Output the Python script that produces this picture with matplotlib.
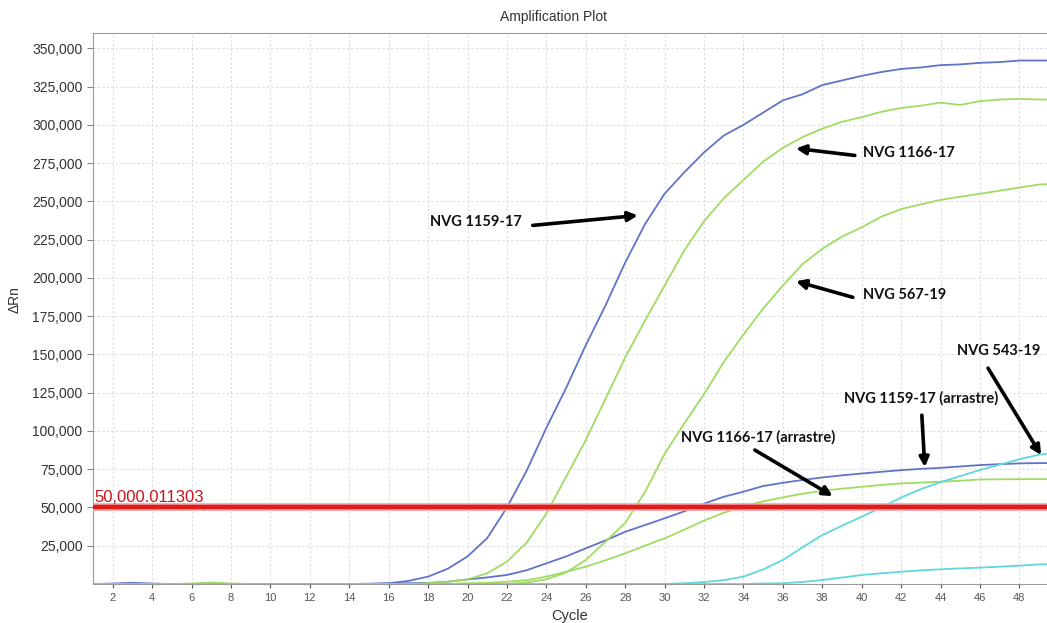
import numpy as np
import matplotlib
matplotlib.use('Agg')
import matplotlib.pyplot as plt
from matplotlib.ticker import FuncFormatter

plt.rcParams['font.family'] = ['Liberation Sans', 'DejaVu Sans']

# ---------------- data ----------------
cycles = np.arange(1, 51)

nvg1159 = [0, 300, 800, 300, 0, 0, 0, 0, 0, 0,
           0, 0, 0, 0, 200, 500, 2000, 4800, 10000, 18000,
           30000, 50000, 74000, 102000, 128000, 156000, 182000, 210000, 235000, 255000,
           269000, 282000, 293000, 300000, 308000, 316000, 320000, 326000, 329000, 332000,
           334500, 336500, 337500, 339000, 339500, 340500, 341000, 342000, 342000, 342000]

nvg1166 = [0, 0, 0, 0, 0, 300, 1000, 300, 0, 0,
           0, 0, 0, 0, 0, 0, 0, 500, 1500, 3000,
           7000, 14600, 27000, 46000, 70000, 94000, 121000, 148000, 172000, 195000,
           218000, 237000, 252000, 264000, 276000, 285000, 292000, 297500, 302000, 305000,
           308500, 311000, 312500, 314500, 313000, 315500, 316500, 317000, 316500, 316500]

nvg567 = [0, 0, 0, 0, 0, 0, 0, 0, 0, 0,
          0, 0, 0, 0, 0, 0, 0, 0, 0, 0,
          0, 0, 1000, 3000, 7500, 15700, 27600, 40000, 60000, 85000,
          105000, 124000, 145000, 163000, 180000, 195000, 209000, 219000, 227000, 233000,
          240000, 245000, 248000, 251000, 253000, 255000, 257000, 259000, 261000, 261500]

nvg1159_arr = [0, 0, 0, 0, 0, 0, 0, 0, 0, 0,
               0, 0, 0, 0, 0, 300, 500, 700, 1500, 3000,
               4300, 5900, 9000, 13500, 18000, 23300, 28500, 34100, 38500, 42900,
               47500, 52500, 57000, 60300, 64000, 66100, 68000, 69600, 71000, 72200,
               73300, 74400, 75200, 75900, 76800, 77700, 78300, 78800, 79000, 79000]

nvg1166_arr = [0, 0, 0, 0, 0, 0, 0, 0, 0, 0,
               0, 0, 0, 0, 0, 0, 0, 0, 0, 500,
               800, 1500, 2500, 4800, 8000, 11300, 15500, 20000, 25000, 29800,
               35500, 41500, 46500, 50900, 54000, 56600, 59000, 60900, 62300, 63500,
               64700, 65700, 66300, 66800, 67500, 68300, 68400, 68500, 68500, 68500]

nvg543 = [0, 0, 0, 0, 0, 0, 0, 0, 0, 0,
          0, 0, 0, 0, 0, 0, 0, 0, 0, 0,
          0, 0, 0, 0, 0, 0, 0, 0, 0, 0,
          500, 1300, 2500, 4800, 9500, 15700, 24000, 32000, 38000, 44000,
          50000, 56500, 62000, 66500, 70500, 74500, 78000, 81500, 84500, 86000]

neg_ctrl = [0, 0, 0, 0, 0, 0, 0, 0, 0, 0,
            0, 0, 0, 0, 0, 0, 0, 0, 0, 0,
            0, 0, 0, 0, 0, 0, 0, 0, 0, 0,
            0, 0, 0, 0, 300, 500, 1300, 2600, 4200, 5900,
            7000, 8000, 8900, 9600, 10200, 10700, 11300, 12000, 12800, 13200]

threshold = 50000.011303

# annotation: label, text position, arrow start, arrow tip, alignment
labels = ['NVG 1159-17', 'NVG 1166-17', 'NVG 567-19', 'NVG 543-19',
          'NVG 1159-17 (arrastre)', 'NVG 1166-17 (arrastre)']
text_xy = [(20.4, 236300), (40.06, 281300), (40.06, 188600), (46.96, 152100),
           (43.03, 121400), (34.73, 95900)]
arrow_from = [(23.31, 234300), (39.65, 280000), (39.55, 187300), (46.41, 141000),
              (43.05, 110300), (34.58, 87500)]
arrow_to = [(28.64, 240800), (36.66, 284600), (36.66, 197800), (49.1, 84200),
            (43.2, 76400), (38.53, 57400)]
text_ha = ['center', 'left', 'left', 'center', 'center', 'center']

blue = '#5f74c9'
green = '#9fdc62'
cyan = '#5fd8dc'

# ---------------- plot ----------------
fig = plt.figure(figsize=(10.47, 6.23), dpi=100)
ax = fig.add_axes([93/1047, 1 - 584/623, (1047 - 93)/1047, (584 - 33)/623])

ax.plot(cycles, nvg1159, color=blue, lw=1.3)
ax.plot(cycles, nvg1159_arr, color=blue, lw=1.3)
ax.plot(cycles, nvg1166, color=green, lw=1.3)
ax.plot(cycles, nvg567, color=green, lw=1.3)
ax.plot(cycles, nvg1166_arr, color=green, lw=1.3)
ax.plot(cycles, nvg543, color=cyan, lw=1.3)
ax.plot(cycles, neg_ctrl, color=cyan, lw=1.3)

ax.axhline(threshold, color='#f5a3a3', lw=5.5, zorder=4)
ax.axhline(threshold, color='#dd1c1c', lw=3.2, zorder=5)
ax.text(1.05, threshold + 1500, '50,000.011303', color='#c8161b', fontsize=12,
        va='bottom', ha='left', zorder=6)

for lab, txy, a0, a1, ha in zip(labels, text_xy, arrow_from, arrow_to, text_ha):
    ax.text(txy[0], txy[1], lab, ha=ha, va='center', fontsize=10.5,
            fontweight='bold', family=['Lato', 'DejaVu Sans'], color='#111111', zorder=7)
    ax.annotate('', xy=a1, xytext=a0,
                arrowprops=dict(arrowstyle='-|>', lw=2.6, color='black',
                                mutation_scale=14, shrinkA=0, shrinkB=0), zorder=7)

ax.set_xlim(1, 49.4)
ax.set_ylim(0, 360000)
ax.set_xticks(np.arange(2, 49, 2))
ax.set_yticks(np.arange(25000, 350001, 25000))
ax.yaxis.set_major_formatter(FuncFormatter(lambda v, p: '{:,.0f}'.format(v)))
ax.tick_params(axis='x', labelsize=8, colors='#555555', length=3)
ax.tick_params(axis='y', labelsize=10, labelcolor='#333333', color='#888888', length=4)
ax.grid(True, color='#dcdcdc', ls=(0, (2, 2)), lw=0.8)
ax.set_axisbelow(True)

for s in ['left', 'bottom', 'top']:
    ax.spines[s].set_color('#9a9a9a')
ax.spines['right'].set_visible(False)

ax.set_xlabel('Cycle', fontsize=10.5, color='#333333', labelpad=4)
fig.text(15/1047, 1 - 300/623, 'ΔRn', rotation=90, fontsize=10, color='#333333',
         ha='center', va='center')
fig.text(553/1047, 1 - 17/623, 'Amplification Plot', fontsize=10, color='#333333',
         ha='center', va='center')

fig.savefig('out.png', dpi=100)
